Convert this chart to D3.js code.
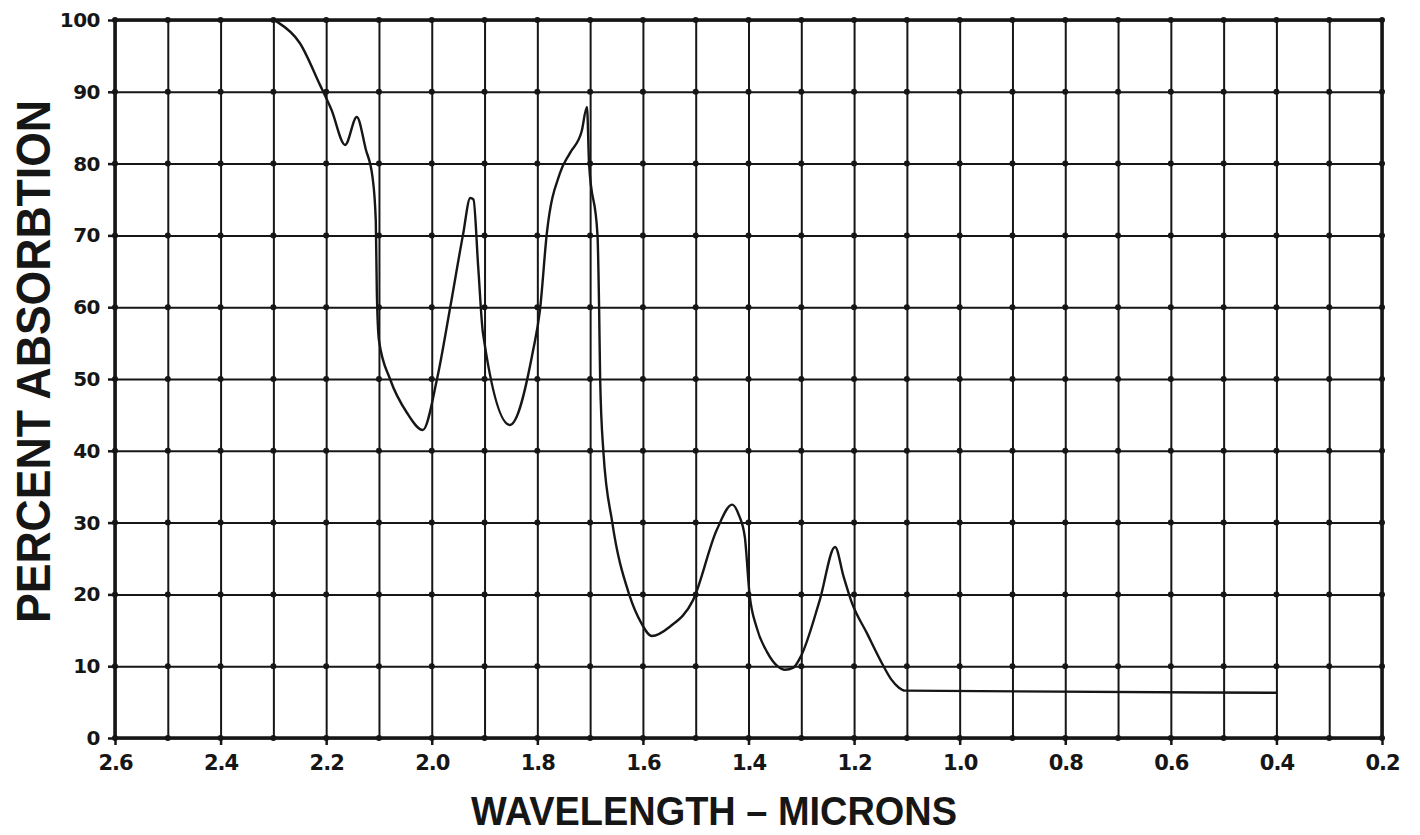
<!DOCTYPE html>
<html><head><meta charset="utf-8">
<script src="https://cdn.jsdelivr.net/npm/d3@7/dist/d3.min.js"></script>
<style>
html,body{margin:0;padding:0;background:#fff;}
svg{display:block;}
</style></head>
<body>
<svg id="chart" width="1420" height="835"></svg>
<script>
// ---- data ----
const wavelength = [2.300, 2.290, 2.250, 2.212, 2.190, 2.164, 2.142, 2.125, 2.112, 2.106, 2.104, 2.100, 2.079, 2.047, 2.017,
  1.990, 1.965, 1.941, 1.927, 1.921, 1.912, 1.903, 1.852, 1.808, 1.795, 1.782, 1.757, 1.738, 1.716, 1.706,
  1.702, 1.686, 1.683, 1.681, 1.675, 1.658, 1.626, 1.603, 1.583, 1.549, 1.505, 1.460, 1.431, 1.418, 1.407,
  1.398, 1.385, 1.365, 1.345, 1.331, 1.315, 1.300, 1.265, 1.236, 1.220, 1.205, 1.175, 1.150, 1.130, 1.115,
  1.104, 0.400];
const absorption = [100, 99.6, 96.8, 91, 87.5, 82.6, 86.5, 82, 78, 72, 62, 55.4, 50, 45.3, 42.9,
  50, 60, 70, 75.2, 75, 65.6, 56.4, 43.6, 54, 59.6, 70.3, 78.7, 81.5, 84.5, 87.9,
  80, 70, 60, 50, 40, 30, 20, 16, 14.2, 15.5, 19.2, 29, 32.5, 31, 28,
  20, 15.5, 12, 10, 9.5, 9.8, 11.5, 19.2, 26.6, 22.5, 19, 14.5, 10.8, 8.2, 7,
  6.6, 6.3];
const xTickValues = [2.6, 2.4, 2.2, 2.0, 1.8, 1.6, 1.4, 1.2, 1.0, 0.8, 0.6, 0.4, 0.2];
const xTickLabels = ["2.6", "2.4", "2.2", "2.0", "1.8", "1.6", "1.4", "1.2", "1.0", "0.8", "0.6", "0.4", "0.2"];
const xGridValues = [2.6, 2.5, 2.4, 2.3, 2.2, 2.1, 2.0, 1.9, 1.8, 1.7, 1.6, 1.5, 1.4, 1.3, 1.2, 1.1, 1.0, 0.9, 0.8, 0.7, 0.6, 0.5, 0.4, 0.3, 0.2];
const yTickValues = [0, 10, 20, 30, 40, 50, 60, 70, 80, 90, 100];
const yTickLabels = ["0", "10", "20", "30", "40", "50", "60", "70", "80", "90", "100"];
const xTitle = "WAVELENGTH – MICRONS";
const yTitle = "PERCENT  ABSORBTION";

// ---- layout ----
const svg = d3.select("#chart");
const m = {left: 115, top: 20, right: 38, bottom: 97};
const W = 1420 - m.left - m.right, H = 835 - m.top - m.bottom;
const g = svg.append("g").attr("transform", `translate(${m.left},${m.top})`);

const x = d3.scaleLinear().domain([2.6, 0.2]).range([0, W]);
const y = d3.scaleLinear().domain([0, 100]).range([H, 0]);

const ink = "#161616";

// grid lines
const gx = g.append("g").attr("transform", `translate(0,${H})`)
  .call(d3.axisBottom(x).tickValues(xGridValues).tickSize(-H).tickFormat(""));
gx.select(".domain").remove();
gx.selectAll("line").attr("stroke", ink).attr("stroke-width", 2);

const gy = g.append("g")
  .call(d3.axisLeft(y).tickValues(yTickValues).tickSize(-W).tickFormat(""));
gy.select(".domain").remove();
gy.selectAll("line").attr("stroke", ink).attr("stroke-width", 2);

// intersection dots
const pts = [];
xGridValues.forEach(a => yTickValues.forEach(b => pts.push([a, b])));
g.append("g").selectAll("circle").data(pts).join("circle")
  .attr("cx", d => x(d[0])).attr("cy", d => y(d[1])).attr("r", 3).attr("fill", ink);

// outer ticks and labels
const ax = g.append("g").attr("transform", `translate(0,${H})`)
  .call(d3.axisBottom(x).tickValues(xTickValues).tickSize(7).tickPadding(10)
    .tickFormat((d, i) => xTickLabels[i]));
ax.select(".domain").remove();
ax.selectAll("line").attr("stroke", ink).attr("stroke-width", 2.5);
ax.selectAll("text").attr("font-family", "'DejaVu Sans', sans-serif")
  .attr("font-weight", "bold").attr("font-size", 21).attr("fill", ink)
  .attr("letter-spacing", -1);

const ay = g.append("g")
  .call(d3.axisLeft(y).tickValues(yTickValues).tickSize(7).tickPadding(8)
    .tickFormat((d, i) => yTickLabels[i]));
ay.select(".domain").remove();
ay.selectAll("line").attr("stroke", ink).attr("stroke-width", 2.5);
ay.selectAll("text").attr("font-family", "'DejaVu Sans', sans-serif")
  .attr("font-weight", "bold").attr("font-size", 20).attr("fill", ink)
  .attr("letter-spacing", -0.5);

// frame
g.append("rect").attr("x", 0).attr("y", 0).attr("width", W).attr("height", H)
  .attr("fill", "none").attr("stroke", ink).attr("stroke-width", 3.5);

// curve
const data = wavelength.map((w, i) => ({w, a: absorption[i]}));
g.append("path").datum(data)
  .attr("d", d3.line().x(d => x(d.w)).y(d => y(d.a)).curve(d3.curveMonotoneX))
  .attr("fill", "none").attr("stroke", ink).attr("stroke-width", 2.4)
  .attr("stroke-linejoin", "round");

// axis titles
svg.append("text").attr("x", 471).attr("y", 825)
  .attr("textLength", 486).attr("lengthAdjust", "spacingAndGlyphs")
  .attr("font-family", "'Liberation Sans', Arial, sans-serif").attr("font-weight", "bold")
  .attr("font-size", 40).attr("fill", ink).text(xTitle);

svg.append("text").attr("transform", "translate(50,623) rotate(-90)")
  .attr("x", 0).attr("y", 0)
  .attr("textLength", 523).attr("lengthAdjust", "spacingAndGlyphs")
  .attr("font-family", "'Liberation Sans', Arial, sans-serif").attr("font-weight", "bold")
  .attr("font-size", 48).attr("fill", ink).text(yTitle);
</script>
</body></html>
